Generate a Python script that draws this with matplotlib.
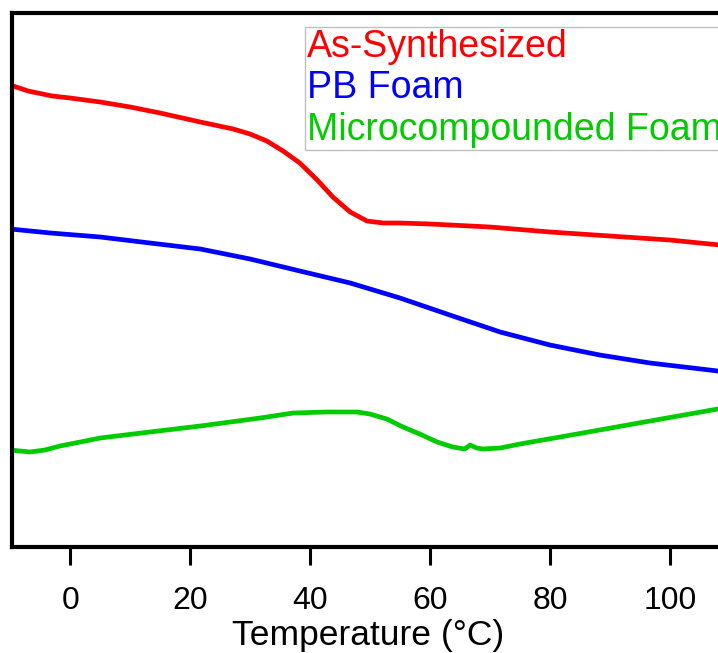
import numpy as np
import matplotlib
matplotlib.use("Agg")
import matplotlib.pyplot as plt

plt.rcParams['font.family'] = ['Liberation Sans', 'DejaVu Sans']

# DSC traces, heat flow in arbitrary units (endo down), offset per sample
t_as = [-10, -7, -3, 0, 5, 10, 15, 21.7, 27.2, 30, 32.8, 35.5, 38.3, 41.2, 43.8,
        46.7, 49.5, 52.2, 55, 60, 70, 80, 90, 100, 110]
hf_as = [4.62, 4.56, 4.51, 4.49, 4.45, 4.40, 4.34, 4.25, 4.18, 4.13, 4.06, 3.96,
         3.84, 3.67, 3.50, 3.35, 3.26, 3.24, 3.24, 3.23, 3.20, 3.15, 3.11, 3.07,
         3.01]

t_pb = [-10, -3.3, 5, 13.3, 21.7, 30, 38.3, 46.7, 55, 63.3, 71.7, 80, 88.3, 96.7,
        108, 110]
hf_pb = [3.18, 3.14, 3.10, 3.04, 2.98, 2.88, 2.76, 2.64, 2.49, 2.32, 2.15, 2.02,
         1.92, 1.84, 1.76, 1.75]

t_mc = [-10, -6.7, -4.2, -1.7, 1.7, 5, 13.3, 21.7, 31.7, 37.2, 42.8, 47.8, 50,
        52.8, 55.5, 58.3, 61.2, 63.8, 65.8, 66.7, 67.8, 68.8, 71.7, 75, 81.7, 88.3,
        96.7, 108, 110]
hf_mc = [0.97, 0.95, 0.97, 1.01, 1.05, 1.09, 1.15, 1.21, 1.29, 1.34, 1.35, 1.35,
         1.33, 1.28, 1.20, 1.13, 1.05, 1.00, 0.98, 1.02, 0.99, 0.98, 0.99, 1.03,
         1.10, 1.17, 1.26, 1.38, 1.40]

labels = ['As-Synthesized', 'PB Foam', 'Microcompounded Foam']
colors = ['#ff0000', '#0000ff', '#00cc00']
xticks = [0, 20, 40, 60, 80, 100]

W, H = 718, 653
fig = plt.figure(figsize=(W / 100, H / 100), dpi=100)
ax = fig.add_axes([12 / W, (H - 547) / H, 713 / W, 534 / H])

for t, hf, lab, c in zip([t_as, t_pb, t_mc], [hf_as, hf_pb, hf_mc], labels, colors):
    ax.plot(t, hf, color=c, lw=3.4, label=lab, solid_joinstyle='round')

ax.set_xlim(-9.7, 109.2)
ax.set_ylim(0, 5.34)
ax.set_xticks(xticks)
ax.set_yticks([])
ax.tick_params(axis='x', direction='out', length=13, width=2.2, pad=15,
               labelsize=23)
for s in ax.spines.values():
    s.set_linewidth(3)
ax.set_xlabel('Temperature (°C)', fontsize=25.5, labelpad=2.5)

leg = ax.legend(loc='upper left', bbox_to_anchor=(305 / W, 1 - 27 / H),
                bbox_transform=fig.transFigure, handlelength=0, handletextpad=0,
                labelcolor=colors, fontsize=27, labelspacing=0.15,
                borderpad=0.05, borderaxespad=0, fancybox=False, framealpha=1)
leg.get_frame().set_edgecolor('#c0c0c0')
leg.get_frame().set_linewidth(1)
for h in leg.legend_handles:
    h.set_visible(False)

fig.savefig('out.png', dpi=100)
